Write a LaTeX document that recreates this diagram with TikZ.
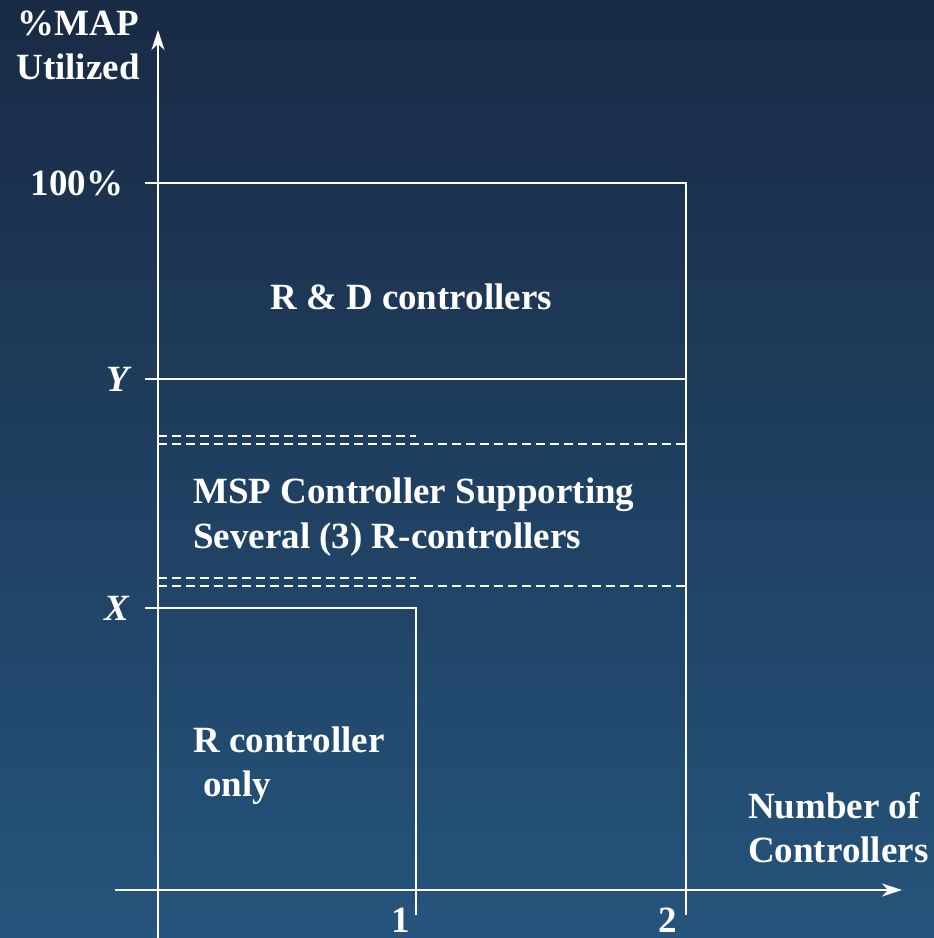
\documentclass[tikz,border=0pt]{standalone}
\usepackage{fontspec}
\setmainfont{Liberation Serif}
\usetikzlibrary{arrows.meta}
\definecolor{bgtop}{RGB}{25,42,68}
\definecolor{bgbot}{RGB}{37,84,124}

\begin{document}
\begin{tikzpicture}[x=1pt, y=-1pt, font=\fontsize{37}{44}\selectfont\bfseries,
                    >={Stealth[length=20pt,width=13pt,inset=6pt]},
                    every node/.style={text=white, inner sep=0pt},
                    axis/.style={white, line width=2pt},
                    bar/.style={white, line width=1.6pt},
                    dline/.style={white, line width=1.4pt, dash pattern=on 9pt off 5pt}]

    % ==========================================================
    % fondo
    % ==========================================================
    \shade[top color=bgtop, bottom color=bgbot] (0,0) rectangle (934,938);
    \useasboundingbox (0,0) rectangle (934,938);

    % ejes
    \draw[axis, ->] (158,938) -- (158,30);
    \draw[axis, ->] (115,890) -- (902,890);

    % niveles 100%, Y, X
    \draw[bar] (145,183) -- (686,183) -- (686,915);
    \draw[bar] (145,379) -- (686,379);
    \draw[bar] (145,608) -- (416,608) -- (416,915);

    % banda MSP, lineas punteadas
    \foreach \y/\r in {436/416, 444/686, 578/416, 586/686} {
        \draw[dline] (158,\y) -- (\r,\y);
    }

    % rotulos del eje de ordenadas
    \node[anchor=base] (map) at (78,35) {\%MAP};
    \node[anchor=base] (util) at (78,79) {Utilized};
    \node[anchor=base] (cien) at (77,195) {100\%};
    \node[anchor=base east] (ylab) at (129,391) {\itshape Y};
    \node[anchor=base east] (xlab) at (129,620) {\itshape X};

    % rotulos del eje de abscisas
    \node[anchor=base] (uno) at (401,932) {1};
    \node[anchor=base] (dos) at (668,932) {2};
    \node[anchor=base west] (num) at (748,818) {Number of};
    \node[anchor=base west] (ctrl) at (748,862) {Controllers};

    % regiones
    \node[anchor=base] (rd) at (411,309) {R \& D controllers};
    \node[anchor=base west] (msp) at (193,503) {MSP Controller Supporting};
    \node[anchor=base west] (sev) at (193,548) {Several (3) R-controllers};
    \node[anchor=base west] (rc) at (193,752) {R controller};
    \node[anchor=base west] (only) at (203,796) {only};

\end{tikzpicture}
\end{document}
